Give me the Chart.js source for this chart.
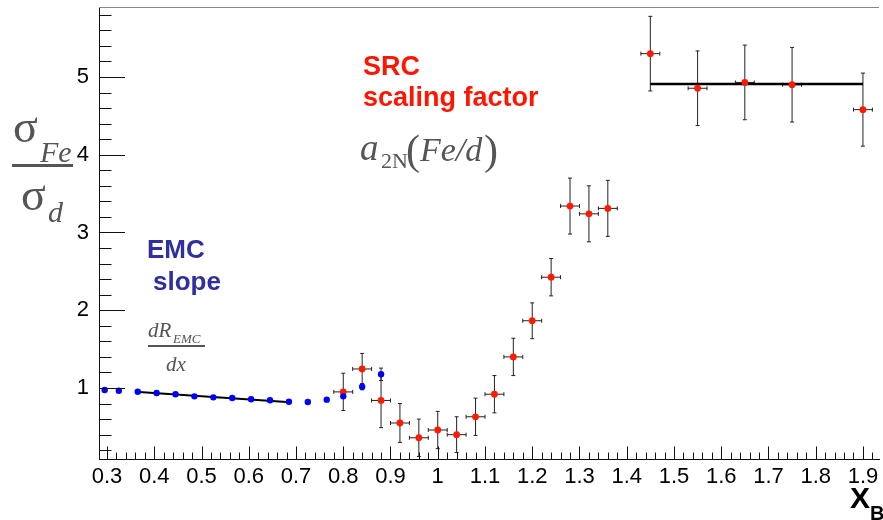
<!DOCTYPE html>
<html>
<head>
<meta charset="utf-8">
<script src="https://cdn.jsdelivr.net/npm/chart.js@4/dist/chart.umd.min.js"></script>
<style>
    body { margin: 0; background: #fff; }
    canvas { display: block; }
</style>
</head>
<body>
<canvas id="ratio" width="883" height="520"></canvas>
<script>
// EMC region, Fe/d ratio
const emcX = [0.295, 0.325, 0.365, 0.405, 0.445, 0.485, 0.525, 0.565, 0.605, 0.645, 0.685, 0.725, 0.765, 0.80, 0.84, 0.88];
const emcY = [0.974, 0.965, 0.952, 0.936, 0.919, 0.893, 0.880, 0.871, 0.855, 0.842, 0.824, 0.820, 0.850, 0.893, 1.017, 1.176];
const emcErrY = [0, 0, 0, 0, 0, 0, 0, 0, 0, 0, 0, 0, 0, 0.02, 0.04, 0.08];

// linear EMC fit
const emcFitX = [0.36, 0.68];
const emcFitY = [0.953, 0.821];

// SRC region, Fe/d ratio
const srcX = [0.80, 0.84, 0.88, 0.92, 0.96, 1.00, 1.04, 1.08, 1.12, 1.16, 1.20, 1.24, 1.28, 1.32, 1.36, 1.45, 1.55, 1.65, 1.75, 1.90];
const srcY = [0.95, 1.245, 0.84, 0.55, 0.36, 0.46, 0.40, 0.63, 0.92, 1.40, 1.865, 2.425, 3.34, 3.24, 3.31, 5.30, 4.855, 4.93, 4.90, 4.58];
const srcErrY = [0.24, 0.20, 0.35, 0.25, 0.24, 0.24, 0.23, 0.24, 0.24, 0.24, 0.23, 0.24, 0.36, 0.36, 0.36, 0.48, 0.48, 0.48, 0.48, 0.47];
const srcErrX = [0.02, 0.02, 0.02, 0.02, 0.02, 0.02, 0.02, 0.02, 0.02, 0.02, 0.02, 0.02, 0.02, 0.02, 0.02, 0.02, 0.02, 0.02, 0.02, 0.02];

// a2N plateau
const srcFitX = [1.45, 1.90];
const srcFitY = [4.91, 4.91];

const xRange = [0.283, 1.934];
const yRange = [0.087, 5.9];

const toPoints = (xs, ys) => xs.map((x, i) => ({ x: x, y: ys[i] }));

// keep the plot frame fixed: no extra room for overhanging tick labels
const noOverhang = (scale) => {
    scale.paddingTop = 0;
    scale.paddingBottom = 0;
    scale.paddingLeft = 0;
    scale.paddingRight = 0;
};

const errorBars = {
    id: "errorBars",
    beforeDatasetsDraw(chart) {
        const ctx = chart.ctx;
        const xs = chart.scales.x;
        const ys = chart.scales.y;
        ctx.save();
        ctx.strokeStyle = "#222";
        ctx.lineWidth = 1;
        chart.data.datasets.forEach((ds) => {
            if (!ds.errY) return;
            ds.data.forEach((p, i) => {
                const px = xs.getPixelForValue(p.x);
                const py = ys.getPixelForValue(p.y);
                ctx.beginPath();
                if (ds.errY[i] > 0) {
                    const top = ys.getPixelForValue(p.y + ds.errY[i]);
                    const bot = Math.min(ys.getPixelForValue(p.y - ds.errY[i]), chart.chartArea.bottom);
                    ctx.moveTo(px, top);
                    ctx.lineTo(px, bot);
                    ctx.moveTo(px - 2, top);
                    ctx.lineTo(px + 2, top);
                    ctx.moveTo(px - 2, bot);
                    ctx.lineTo(px + 2, bot);
                }
                if (ds.errX && ds.errX[i] > 0) {
                    const left = xs.getPixelForValue(p.x - ds.errX[i]);
                    const right = xs.getPixelForValue(p.x + ds.errX[i]);
                    ctx.moveTo(left, py);
                    ctx.lineTo(right, py);
                    ctx.moveTo(left, py - 2);
                    ctx.lineTo(left, py + 2);
                    ctx.moveTo(right, py - 2);
                    ctx.lineTo(right, py + 2);
                }
                ctx.stroke();
            });
        });
        ctx.restore();
    },
};

// inward ticks and top frame line
const frameTicks = {
    id: "frameTicks",
    afterDraw(chart) {
        const ctx = chart.ctx;
        const area = chart.chartArea;
        const xs = chart.scales.x;
        const ys = chart.scales.y;
        ctx.save();
        ctx.strokeStyle = "#111";
        ctx.lineWidth = 1;
        ctx.beginPath();
        for (let k = Math.ceil(xs.min / 0.02); k * 0.02 <= xs.max; k++) {
            const px = Math.round(xs.getPixelForValue(k * 0.02)) + 0.5;
            const len = k % 5 === 0 ? 12.5 : 6.5;
            ctx.moveTo(px, area.bottom);
            ctx.lineTo(px, area.bottom - len);
        }
        for (let k = Math.ceil(ys.min / 0.2); k * 0.2 <= ys.max; k++) {
            const py = Math.round(ys.getPixelForValue(k * 0.2)) + 0.5;
            const len = k % 5 === 0 ? 26 : 12.5;
            ctx.moveTo(area.left, py);
            ctx.lineTo(area.left + len, py);
        }
        ctx.stroke();
        ctx.strokeStyle = "#888";
        ctx.beginPath();
        ctx.moveTo(area.left, area.top + 0.5);
        ctx.lineTo(area.right, area.top + 0.5);
        ctx.stroke();
        ctx.restore();
    },
};

const labels = {
    id: "labels",
    afterDraw(chart) {
        const ctx = chart.ctx;
        ctx.save();
        ctx.textBaseline = "alphabetic";
        ctx.textAlign = "left";

        // y title: sigma_Fe / sigma_d
        ctx.fillStyle = "#555";
        ctx.font = '46px "Liberation Serif"';
        ctx.fillText("σ", 13, 142);
        ctx.fillText("σ", 21, 210);
        ctx.font = 'italic 30px "Liberation Serif"';
        ctx.fillText("Fe", 40, 162);
        ctx.fillText("d", 48, 222);
        ctx.fillRect(12, 164, 61, 3);

        // SRC annotation
        ctx.fillStyle = "#ff1500";
        ctx.font = 'bold 27px "Liberation Sans"';
        ctx.fillText("SRC", 363, 75);
        ctx.fillText("scaling factor", 363, 106);

        ctx.fillStyle = "#555";
        ctx.font = 'italic 37px "Liberation Serif"';
        ctx.fillText("a", 360, 160);
        ctx.font = '22px "Liberation Serif"';
        ctx.fillText("2N", 381, 168);
        ctx.font = '42px "Liberation Serif"';
        ctx.fillText("(", 406, 164);
        ctx.fillText(")", 484, 164);
        ctx.font = 'italic 34px "Liberation Serif"';
        ctx.fillText("Fe/d", 420, 161);

        // EMC annotation
        ctx.fillStyle = "#2f2f9f";
        ctx.font = 'bold 26px "Liberation Sans"';
        ctx.fillText("EMC", 147, 258);
        ctx.fillText("slope", 153, 290);

        ctx.fillStyle = "#555";
        ctx.font = 'italic 21px "Liberation Serif"';
        ctx.fillText("dR", 148, 337);
        ctx.fillText("dx", 166, 371);
        ctx.font = 'italic 13px "Liberation Serif"';
        ctx.fillText("EMC", 173, 343);
        ctx.fillRect(148, 345, 57, 2);

        // x title
        ctx.fillStyle = "#000";
        ctx.font = 'bold 30px "Liberation Sans"';
        ctx.fillText("X", 850, 508);
        ctx.font = 'bold 20px "Liberation Sans"';
        ctx.fillText("B", 870, 520);
        ctx.restore();
    },
};

new Chart(document.getElementById("ratio"), {
    type: "scatter",
    data: {
        datasets: [
            {
                data: toPoints(emcX, emcY),
                errY: emcErrY,
                pointRadius: 3.2,
                pointBackgroundColor: "#0000ff",
                pointBorderWidth: 0,
            },
            {
                data: toPoints(srcX, srcY),
                errY: srcErrY,
                errX: srcErrX,
                pointRadius: 3.4,
                pointBackgroundColor: "#ff1a00",
                pointBorderWidth: 0,
            },
            {
                data: toPoints(emcFitX, emcFitY),
                showLine: true,
                borderColor: "#000",
                borderWidth: 2,
                pointRadius: 0,
            },
            {
                data: toPoints(srcFitX, srcFitY),
                showLine: true,
                borderColor: "#000",
                borderWidth: 2.5,
                pointRadius: 0,
            },
        ],
    },
    options: {
        responsive: false,
        devicePixelRatio: 1,
        animation: false,
        layout: { padding: { top: 7, right: 0, left: 0, bottom: 0 } },
        plugins: {
            legend: { display: false },
            tooltip: { enabled: false },
        },
        scales: {
            x: {
                type: "linear",
                min: xRange[0],
                max: xRange[1],
                afterFit: (scale) => { scale.height = 61; noOverhang(scale); },
                grid: { display: false, drawTicks: false },
                border: { display: true, color: "#111", width: 1 },
                ticks: {
                    stepSize: 0.1,
                    includeBounds: false,
                    autoSkip: false,
                    maxRotation: 0,
                    padding: 5,
                    color: "#000",
                    font: { family: "Liberation Sans", size: 22 },
                    callback: (v) => String(Math.round(v * 10) / 10),
                },
            },
            y: {
                type: "linear",
                min: yRange[0],
                max: yRange[1],
                afterFit: (scale) => { scale.width = 99; noOverhang(scale); },
                grid: { display: false, drawTicks: false },
                border: { display: true, color: "#111", width: 1 },
                ticks: {
                    stepSize: 1,
                    includeBounds: false,
                    padding: 10,
                    color: "#000",
                    font: { family: "Liberation Sans", size: 22 },
                },
            },
        },
    },
    plugins: [errorBars, frameTicks, labels],
});
</script>
</body>
</html>
